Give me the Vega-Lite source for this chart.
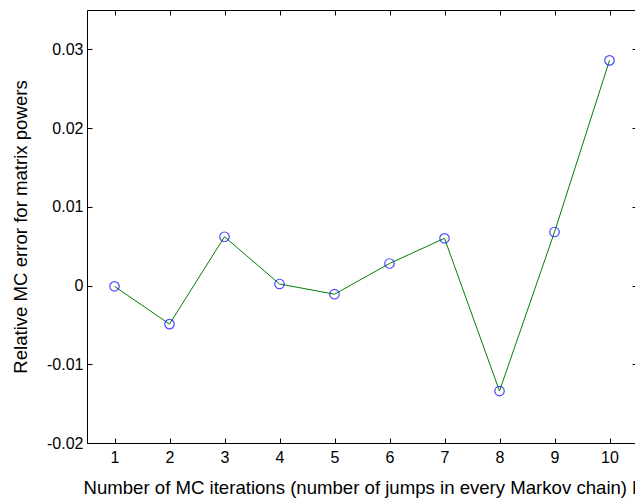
{
  "$schema": "https://vega.github.io/schema/vega-lite/v6.json",
  "width": 550,
  "height": 433,
  "autosize": "none",
  "padding": {"left": 87, "top": 10, "right": 0, "bottom": 57},
  "background": "white",
  "data": {"values": [
    {"k": 1, "err": -0.0001},
    {"k": 2, "err": -0.0049},
    {"k": 3, "err": 0.0062},
    {"k": 4, "err": 0.0002},
    {"k": 5, "err": -0.0011},
    {"k": 6, "err": 0.0028},
    {"k": 7, "err": 0.006},
    {"k": 8, "err": -0.0134},
    {"k": 9, "err": 0.0068},
    {"k": 10, "err": 0.0286}
  ]},
  "config": {
    "font": "Liberation Sans",
    "view": {"stroke": null},
    "axis": {
      "grid": false,
      "domainColor": "black",
      "domainWidth": 1,
      "tickColor": "black",
      "tickWidth": 1,
      "tickSize": -5,
      "labelFont": "Liberation Sans",
      "labelFontSize": 16,
      "labelColor": "black",
      "titleFont": "Liberation Sans",
      "titleFontSize": 18.6,
      "titleFontWeight": "normal",
      "titleColor": "black"
    }
  },
  "resolve": {"axis": {"x": "independent", "y": "independent"}},
  "layer": [
    {
      "mark": {"type": "line", "color": "#008000", "strokeWidth": 1},
      "encoding": {
        "x": {"field": "k", "type": "quantitative", "scale": {"domain": [0.5, 10.5], "nice": false, "zero": false},
          "axis": {"orient": "bottom", "values": [1,2,3,4,5,6,7,8,9,10], "title": "Number of MC iterations (number of jumps in every Markov chain) k", "labelPadding": 11, "titlePadding": 13}},
        "y": {"field": "err", "type": "quantitative", "scale": {"domain": [-0.02, 0.035], "nice": false, "zero": false},
          "axis": {"orient": "left", "values": [-0.02, -0.01, 0, 0.01, 0.02, 0.03], "labelExpr": "datum.value == 0 ? '0' : replace(format(datum.value, '.2f'), '\u2212', '-')", "title": "Relative MC error for matrix powers", "labelPadding": 9, "titlePadding": 16}}
      }
    },
    {
      "mark": {"type": "point", "shape": "circle", "size": 90, "filled": false, "color": "#0000ff", "strokeWidth": 1.2},
      "encoding": {
        "x": {"field": "k", "type": "quantitative",
          "axis": {"orient": "top", "values": [1,2,3,4,5,6,7,8,9,10], "labels": false, "title": null}},
        "y": {"field": "err", "type": "quantitative",
          "axis": {"orient": "right", "values": [-0.02, -0.01, 0, 0.01, 0.02, 0.03], "labels": false, "title": null}}
      }
    }
  ]
}
